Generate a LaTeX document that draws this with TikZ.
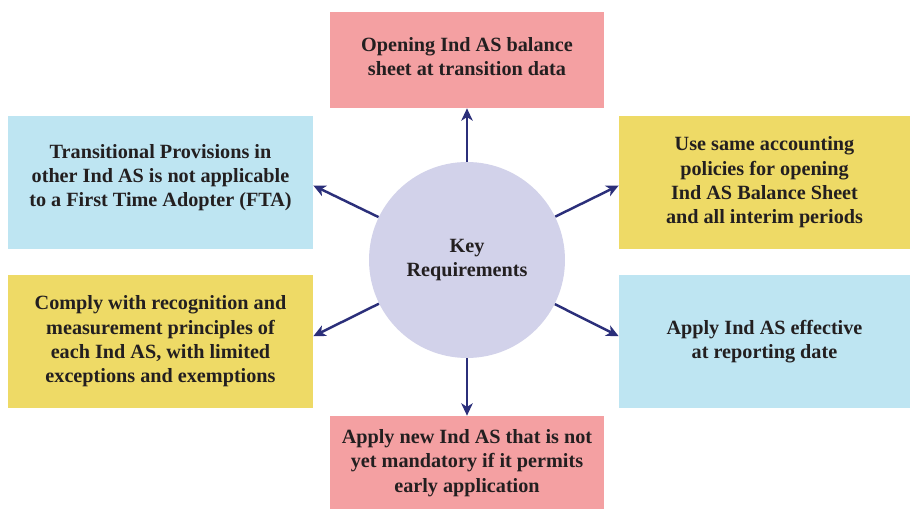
\documentclass[tikz,border=0pt]{standalone}
\usepackage{fontspec}
\setmainfont{Liberation Serif}
\usetikzlibrary{arrows.meta}
\definecolor{pinkbox}{HTML}{F4A0A2}
\definecolor{bluebox}{HTML}{BEE5F2}
\definecolor{yellowbox}{HTML}{EEDA66}
\definecolor{circfill}{HTML}{D2D2EA}
\definecolor{navy}{HTML}{2B2F7A}
\definecolor{txt}{HTML}{231F20}
\begin{document}
\begin{tikzpicture}[x=0.02cm,y=-0.02cm,
  box/.style={rectangle, inner sep=0pt, align=center, text=txt,
    font=\fontsize{11.5}{13.8}\selectfont\bfseries},
  midbox/.style={box, minimum width=5.48cm, minimum height=1.92cm, fill=pinkbox},
  leftbox/.style={box, minimum width=6.1cm, minimum height=2.66cm},
  rightbox/.style={box, minimum width=5.82cm, minimum height=2.66cm},
  hub/.style={circle, inner sep=0pt, minimum size=3.92cm, fill=circfill, align=center,
    text=txt, font=\fontsize{11.5}{14}\selectfont\bfseries},
  arr/.style={draw=navy, line width=1.4pt, -{Stealth[length=7pt, width=6.5pt, inset=2pt]}}
]
\useasboundingbox (0,0) rectangle (910,509);
\fill[white] (0,0) rectangle (910,509);

\node[midbox] (t) at (467,60) {Opening Ind AS balance\\sheet at transition data\\[-10pt]};
\node[midbox, minimum height=1.88cm] (b) at (467,463) {Apply new Ind AS that is not\\yet mandatory if it permits\\early application};
\node[leftbox, fill=bluebox] (ul) at (160.5,182.5) {Transitional Provisions in\\other Ind AS is not applicable\\to a First Time Adopter (FTA)\\[-6pt]};
\node[leftbox, fill=yellowbox] (ll) at (160.5,341.5) {Comply with recognition and\\measurement principles of\\each Ind AS, with limited\\exceptions and exemptions};
\node[rightbox, fill=yellowbox] (ur) at (764.5,182.5) {Use same accounting\\policies for opening\\Ind AS Balance Sheet\\and all interim periods};
\node[rightbox, fill=bluebox] (lr) at (764.5,341.5) {Apply Ind AS effective\\at reporting date};
\node[hub] (c) at (467,260) {Key\\Requirements};

\draw[arr] (c) -- (t.south);
\draw[arr] (c) -- (b.north);
\draw[arr] (c) -- ([yshift=-1.7pt]ul.east);
\draw[arr] (c) -- ([yshift=-1.7pt]ur.west);
\draw[arr] (c) -- ([yshift=3pt]ll.east);
\draw[arr] (c) -- ([yshift=3pt]lr.west);
\end{tikzpicture}
\end{document}
